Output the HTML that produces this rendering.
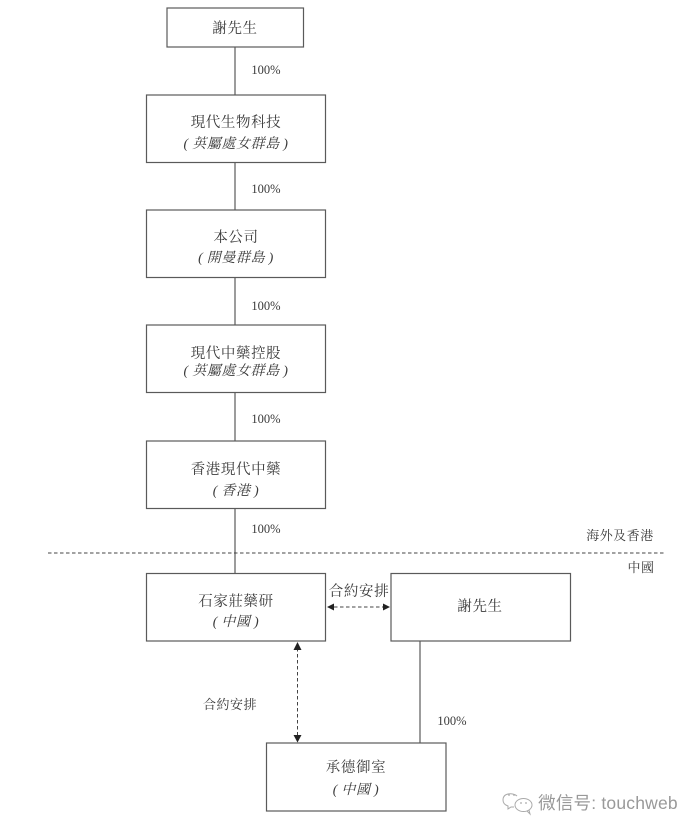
<!DOCTYPE html>
<html>
<head>
<meta charset="utf-8">
<style>
html,body{margin:0;padding:0;background:#fff;width:700px;height:833px;overflow:hidden}
svg{display:block}
text{font-family:"Liberation Serif","Noto Serif CJK TC","Noto Serif CJK SC",serif;fill:#3a3a3a;text-anchor:middle}
.t{font-size:14.5px;letter-spacing:.6px}
.i{font-size:14px;font-style:italic;letter-spacing:.6px}
.p{font-size:12.5px;fill:#3a3a3a}
.s{font-size:13px;letter-spacing:.5px}
rect{fill:none;stroke:#5a5a5a;stroke-width:1.2}
line{stroke:#5a5a5a;stroke-width:1.2}
.d{stroke:#444;stroke-width:1;stroke-dasharray:3.5 2.5}
polygon{fill:#222}
</style>
</head>
<body>
<svg width="700" height="833" viewBox="0 0 700 833" xmlns="http://www.w3.org/2000/svg">
<line x1="235" y1="47" x2="235" y2="95"/>
<line x1="235" y1="162" x2="235" y2="210"/>
<line x1="235" y1="277" x2="235" y2="325"/>
<line x1="235" y1="392" x2="235" y2="441"/>
<line x1="235" y1="508" x2="235" y2="573"/>
<line x1="420" y1="641" x2="420" y2="743"/>
<line class="d" x1="48" y1="553" x2="665" y2="553"/>
<rect x="167" y="8" width="136.500" height="39"/>
<rect x="146.500" y="95" width="179" height="67.500"/>
<rect x="146.500" y="210" width="179" height="67.500"/>
<rect x="146.500" y="325" width="179" height="67.500"/>
<rect x="146.500" y="441" width="179" height="67.500"/>
<rect x="146.500" y="573.500" width="179" height="67.500"/>
<rect x="391" y="573.500" width="179.500" height="67.500"/>
<rect x="266.500" y="743" width="179.500" height="68"/>
<text class="t" x="235" y="33">謝先生</text>
<text class="t" x="236" y="127">現代生物科技</text>
<text class="i" x="236" y="148">(&#8201;英屬處女群島&#8201;)</text>
<text class="t" x="236" y="242">本公司</text>
<text class="i" x="236" y="262">(&#8201;開曼群島&#8201;)</text>
<text class="t" x="236" y="358">現代中藥控股</text>
<text class="i" x="236" y="375">(&#8201;英屬處女群島&#8201;)</text>
<text class="t" x="236" y="474">香港現代中藥</text>
<text class="i" x="236" y="495">(&#8201;香港&#8201;)</text>
<text class="t" x="236" y="606">石家莊藥研</text>
<text class="i" x="236" y="626">(&#8201;中國&#8201;)</text>
<text class="t" x="480" y="611">謝先生</text>
<text class="t" x="356" y="772">承德御室</text>
<text class="i" x="356" y="794">(&#8201;中國&#8201;)</text>
<text class="p" x="266" y="74">100%</text>
<text class="p" x="266" y="193">100%</text>
<text class="p" x="266" y="310">100%</text>
<text class="p" x="266" y="423">100%</text>
<text class="p" x="266" y="533">100%</text>
<text class="p" x="452" y="725">100%</text>
<text class="s" x="620" y="540">海外及香港</text>
<text class="s" x="641" y="572">中國</text>
<text class="t" x="359" y="596">合約安排</text>
<text class="s" x="230" y="709">合約安排</text>
<line class="d" x1="334" y1="607" x2="385" y2="607"/>
<polygon points="327,607 334,603.500 334,610.500"/>
<polygon points="390,607 383,603.500 383,610.500"/>
<line class="d" x1="297.500" y1="648" x2="297.500" y2="736"/>
<polygon points="297.500,642 293.500,650 301.500,650"/>
<polygon points="297.500,742.500 293.500,735 301.500,735"/>
<g fill="none" stroke="#aaa" stroke-width="1">
<path d="M517 796 c-3 -3 -14 -4 -14 4 c0 3 2 5 5 6 l0 3 l3 -2 l3 0"/>
<ellipse cx="523.500" cy="805" rx="8.500" ry="6.500"/>
<path d="M527 811 l3 3 l-1 -4"/>
</g>
<g fill="#aaa">
<circle cx="509" cy="795" r=".9"/><circle cx="514" cy="795" r=".9"/>
<circle cx="521" cy="803" r=".9"/><circle cx="526" cy="803" r=".9"/>
</g>
<text x="608" y="809" style="font-family:'Liberation Sans','Noto Sans CJK SC',sans-serif;font-size:17.500px;fill:#999;letter-spacing:.2px">微信号: touchweb</text>
</svg>
</body>
</html>
